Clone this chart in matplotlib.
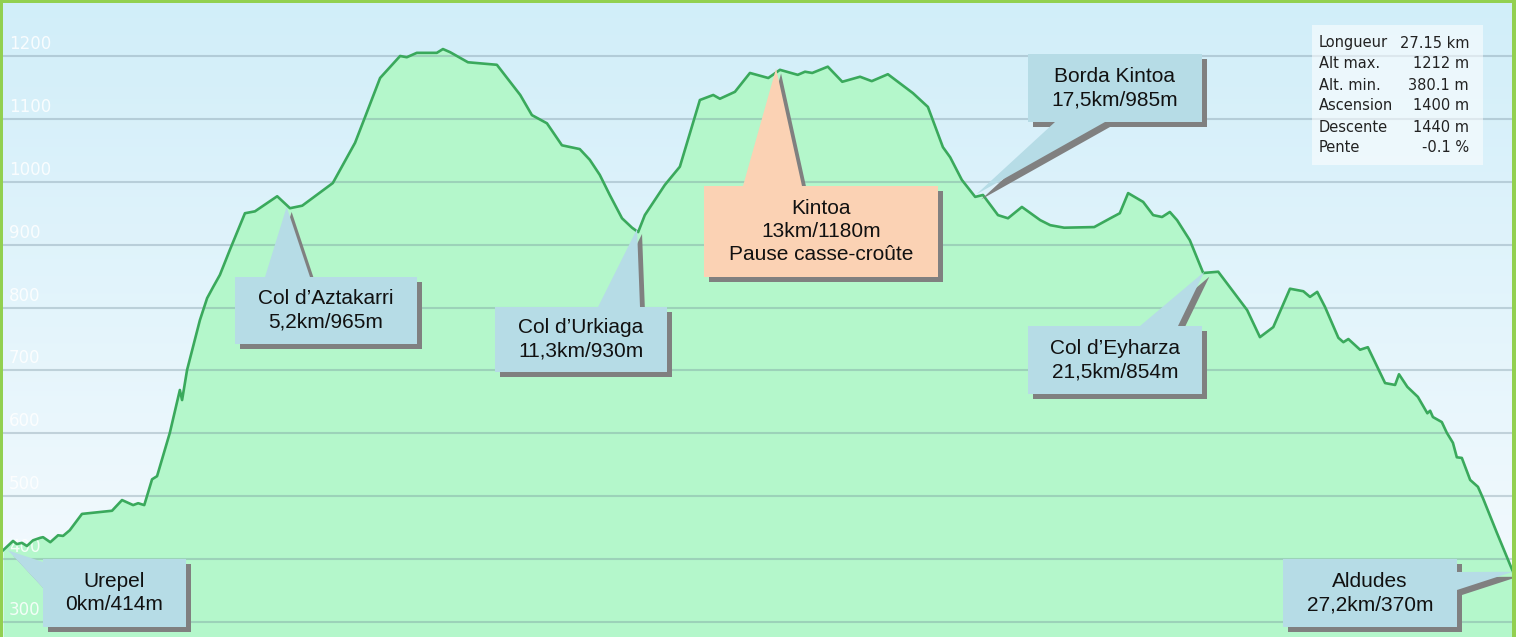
import matplotlib
matplotlib.use('Agg')
import matplotlib.pyplot as plt
import numpy as np
from matplotlib.patches import Polygon, Rectangle
from matplotlib.colors import LinearSegmentedColormap

# profil altimetrique (km, m)
km = [0.00, 0.18, 0.25, 0.34, 0.43, 0.54, 0.67, 0.72, 0.85, 0.99, 1.08, 1.20, 1.42, 1.96,
      2.14, 2.34, 2.43, 2.54, 2.68, 2.77, 3.00, 3.18, 3.22, 3.31, 3.54, 3.67, 3.78, 3.90,
      4.08, 4.35, 4.53, 4.93, 5.16, 5.38, 5.93, 6.33, 6.51, 6.78, 7.14, 7.26, 7.44, 7.80,
      7.91, 8.04, 8.36, 8.88, 9.30, 9.51, 9.78, 10.05, 10.37, 10.55, 10.73, 10.91, 11.13,
      11.31, 11.42, 11.54, 11.72, 11.90, 12.17, 12.53, 12.77, 12.89, 13.16, 13.43, 13.76,
      13.97, 14.29, 14.42, 14.55, 14.83, 15.09, 15.41, 15.62, 15.91, 16.36, 16.63, 16.90,
      17.03, 17.24, 17.48, 17.62, 17.89, 18.07, 18.32, 18.65, 18.83, 19.08, 19.62, 19.91,
      20.08, 20.23, 20.50, 20.68, 20.84, 20.98, 21.11, 21.34, 21.58, 21.85, 22.37, 22.60,
      22.84, 23.14, 23.38, 23.50, 23.63, 23.77, 24.01, 24.10, 24.19, 24.40, 24.54, 24.85,
      25.03, 25.10, 25.25, 25.44, 25.61, 25.66, 25.71, 25.87, 25.96, 26.07, 26.14, 26.23,
      26.38, 26.52, 26.61, 26.86, 27.15]
alt = [414, 429, 424, 426, 421, 430, 434, 435, 427, 438, 437, 446, 472, 477,
       494, 486, 489, 486, 527, 532, 601, 669, 653, 701, 780, 815, 833, 852,
       892, 950, 953, 977, 958, 962, 998, 1062, 1103, 1165, 1200, 1198, 1205, 1205,
       1211, 1206, 1190, 1186, 1138, 1106, 1093, 1058, 1052, 1035, 1011, 979, 942,
       927, 920, 947, 971, 995, 1024, 1130, 1138, 1132, 1143, 1173, 1165,
       1178, 1170, 1175, 1173, 1183, 1159, 1167, 1160, 1171, 1141, 1119, 1055,
       1039, 1003, 976, 979, 947, 942, 960, 939, 931, 927, 928, 942,
       950, 982, 968, 947, 944, 952, 939, 907, 855, 857, 796, 753,
       769, 830, 826, 817, 825, 801, 752, 745, 750, 733, 737, 680,
       677, 694, 674, 658, 632, 636, 626, 618, 601, 585, 562, 561,
       526, 515, 497, 442, 380]

# etapes
stop_labels = ['Urepel\n0km/414m',
               'Col d\u2019Aztakarri\n5,2km/965m',
               'Col d\u2019Urkiaga\n11,3km/930m',
               'Kintoa\n13km/1180m\nPause casse-cro\u00fbte',
               'Borda Kintoa\n17,5km/985m',
               'Col d\u2019Eyharza\n21,5km/854m',
               'Aldudes\n27,2km/370m']
stop_km = [0.09, 5.1, 11.4, 13.9, 17.5, 21.6, 27.15]
stop_alt = [414, 960, 925, 1180, 980, 857, 380]

stats_names = ['Longueur', 'Alt max.', 'Alt. min.', 'Ascension', 'Descente', 'Pente']
stats_values = ['27.15 km', '1212 m', '380.1 m', '1400 m', '1440 m', '-0.1 %']

grid_levels = [300, 400, 500, 600, 700, 800, 900, 1000, 1100, 1200]

W, H = 1516, 637
fig = plt.figure(figsize=(W / 100, H / 100), dpi=100)
ax = fig.add_axes([0, 0, 1, 1])
x0, x1 = -0.054, 27.204
y0, y1 = 276.3, 1289.0
ax.set_xlim(x0, x1)
ax.set_ylim(y0, y1)
ax.axis('off')

sky = LinearSegmentedColormap.from_list('sky', ['#d1eef9', '#f6fbfe'])
ax.imshow(np.linspace(0, 1, 256).reshape(-1, 1), cmap=sky, extent=[x0, x1, y0, y1],
          aspect='auto', origin='upper', zorder=0)

ax.fill_between(km, alt, y0, color='#b4f7cb', lw=0, zorder=1)
for g in grid_levels:
    ax.axhline(g, color=(0.42, 0.52, 0.58), alpha=0.32, lw=1.5, zorder=2)
    ax.annotate(str(g), xy=(0, g), xycoords=('axes fraction', 'data'),
                xytext=(9, 3), textcoords='offset pixels', ha='left', va='bottom',
                color='white', alpha=0.85, fontsize=12, zorder=3)
ax.plot(km, alt, color='#3aa95c', lw=1.9, zorder=4)


def fp(x, y):
    # pixel de l'image (origine en haut a gauche) -> fraction de figure
    return (x / W, 1 - y / H)


# position des bulles en pixels : gauche, haut, droite, bas, base du pointeur
boxes = [
    ((43, 559, 186, 627), [(43, 562), (43, 588)]),
    ((235, 277, 417, 344), [(310, 277), (265, 277)]),
    ((495, 307, 667, 372), [(640, 307), (598, 307)]),
    ((704, 186, 938, 277), [(802, 186), (743, 186)]),
    ((1028, 54, 1202, 122), [(1105, 122), (1055, 122)]),
    ((1028, 326, 1202, 394), [(1178, 326), (1140, 326)]),
    ((1283, 559, 1457, 627), [(1457, 590), (1457, 572)]),
]
inv = fig.transFigure.inverted()
for i, (lab, (rect, base)) in enumerate(zip(stop_labels, boxes)):
    l, t, r, b = rect
    tip = inv.transform(ax.transData.transform((stop_km[i], stop_alt[i])))
    face = '#fbd2b4' if i == 3 else '#b6dce6'
    for dx, col, z in [(5, '#808080', 5), (0, face, 6)]:
        fig.add_artist(Rectangle(fp(l + dx, b + dx), (r - l) / W, (b - t) / H,
                                 transform=fig.transFigure, facecolor=col,
                                 edgecolor='none', zorder=z))
        tri = [(tip[0] + dx / W, tip[1] - dx / H)] + [fp(px + dx, py + dx) for px, py in base]
        fig.add_artist(Polygon(tri, closed=True, transform=fig.transFigure,
                               facecolor=col, edgecolor='none', zorder=z))
    cx, cy = fp((l + r) / 2, (t + b) / 2)
    fig.text(cx, cy, lab, ha='center', va='center', fontsize=15,
             family='Liberation Sans', linespacing=1.28, color='#111111', zorder=7)

# encadre des statistiques
fig.add_artist(Rectangle(fp(1312, 165), 171 / W, 140 / H, transform=fig.transFigure,
                         facecolor='white', alpha=0.55, edgecolor='none', zorder=5))
for j, (n, v) in enumerate(zip(stats_names, stats_values)):
    yy = 43 + j * 21
    fig.text(*fp(1319, yy), n, ha='left', va='center', fontsize=10.5, color='#222222', zorder=6)
    fig.text(*fp(1469, yy), v, ha='right', va='center', fontsize=10.5, color='#222222', zorder=6)

# cadre vert
for rx, ry, rw, rh in [(0, 637, 3, 637), (0, 3, 1516, 3), (1512, 637, 4, 637)]:
    fig.add_artist(Rectangle(fp(rx, ry), rw / W, rh / H, transform=fig.transFigure,
                             facecolor='#92d050', edgecolor='none', zorder=8))

fig.savefig('out.png', dpi=100)
